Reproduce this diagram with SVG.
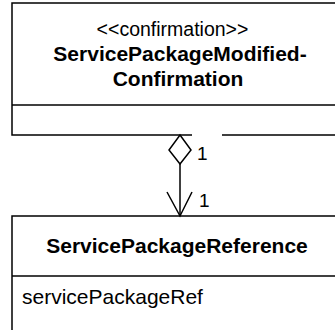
<svg xmlns="http://www.w3.org/2000/svg" width="335" height="330" viewBox="0 0 335 330">
<style>
.ln{fill:none;stroke:#000;stroke-width:1.5}
.t{font-family:"Liberation Sans",Arial,sans-serif;font-size:19.5px;fill:#000}
.a{font-family:"Liberation Sans",Arial,sans-serif;font-size:21px;fill:#000}
.b{font-family:"Liberation Sans",Arial,sans-serif;font-size:21px;font-weight:bold;fill:#000}
.m{font-family:"Liberation Sans",Arial,sans-serif;font-size:19px;fill:#000}
</style>
<rect width="335" height="330" fill="#fff"/>
<g id="ServicePackageModifiedConfirmation">
<path class="ln" d="M192,135 H12 V3 H345 M222,135 H345"/>
<line class="ln" x1="12" y1="105" x2="345" y2="105"/>
<text class="t" x="172.5" y="36" text-anchor="middle">&lt;&lt;confirmation&gt;&gt;</text>
<text class="b" x="180" y="61" text-anchor="middle">ServicePackageModified-</text>
<text class="b" x="178" y="86" text-anchor="middle">Confirmation</text>
</g>
<g id="ServicePackageReference">
<path class="ln" d="M12,340 V216 H345"/>
<line class="ln" x1="12" y1="276" x2="345" y2="276"/>
<text class="b" x="177" y="253" text-anchor="middle">ServicePackageReference</text>
<text class="a" x="22" y="304">servicePackageRef</text>
</g>
<g id="connectors">
<path class="ln" d="M180,135 L191,150 L180,164 L169,150 Z"/>
<line class="ln" x1="180" y1="164" x2="180" y2="216"/>
<path class="ln" d="M167,192 L180,216 L192,192"/>
<text class="m" x="197" y="160">1</text>
<text class="m" x="199" y="207">1</text>
</g>
</svg>
